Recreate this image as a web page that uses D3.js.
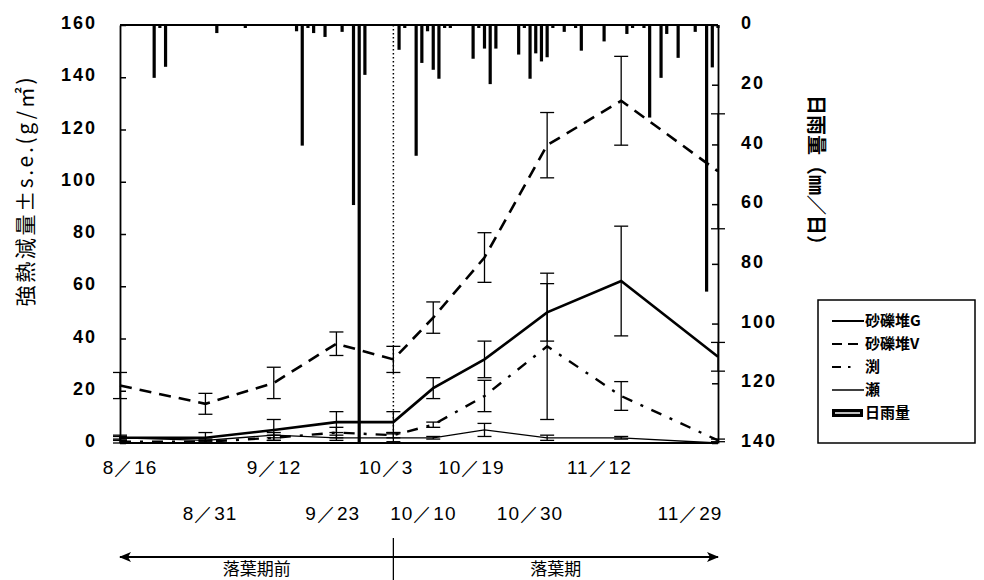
<!DOCTYPE html>
<html>
<head>
<meta charset="utf-8">
<script src="https://cdn.jsdelivr.net/npm/d3@7/dist/d3.min.js"></script>
<style>
body { margin: 0; background: #fff; }
.num { font-family: "Liberation Sans", Arial, sans-serif; font-weight: bold; font-size: 18px; letter-spacing: 2px; }
.jp { font-family: "Noto Sans CJK JP", sans-serif; }
</style>
</head>
<body>
<svg id="chart" width="984" height="580"></svg>
<script>
// sampling dates and labels
const sampleDates = ["1990-08-16", "1990-08-31", "1990-09-12", "1990-09-23", "1990-10-03",
	"1990-10-10", "1990-10-19", "1990-10-30", "1990-11-12", "1990-11-29"];
const dateLabels = ["8／16", "8／31", "9／12", "9／23", "10／3", "10／10", "10／19", "10／30", "11／12", "11／29"];

// 強熱減量 (g/m2) and s.e.
const gravelG = [2, 2, 5, 8, 8, 21, 32, 50, 62, 33];
const gravelGErr = [1, 2, 4, 4, 4, 4, 7, 11, 21, 5.5];
const gravelV = [22, 15, 23, 38, 32, 48, 71, 114, 131, 104];
const gravelVErr = [5, 4, 6, 4.5, 5, 6, 9.5, 12.5, 17, 22];
const pool = [0.5, 0.5, 2, 4, 3, 7, 18, 37, 18, 1];
const poolErr = [0.5, 0.5, 1, 2, 1, 1, 6, 28, 5.5, 0.5];
const riffle = [2, 1, 3, 2, 2, 2, 5, 2, 2, 0];
const riffleErr = [0.5, 0.5, 1, 1, 1.5, 0.5, 2.5, 1, 0.5, 0];

// daily rainfall (mm/day)
const rainDates = ["1990-08-22", "1990-08-23", "1990-08-24", "1990-09-02", "1990-09-07", "1990-09-16", "1990-09-17",
	"1990-09-18", "1990-09-19", "1990-09-21", "1990-09-24", "1990-09-26", "1990-09-27", "1990-09-28",
	"1990-10-04", "1990-10-05", "1990-10-07", "1990-10-08", "1990-10-09", "1990-10-10", "1990-10-11",
	"1990-10-12", "1990-10-13", "1990-10-17", "1990-10-18", "1990-10-19", "1990-10-20", "1990-10-21",
	"1990-10-25", "1990-10-26", "1990-10-27", "1990-10-28", "1990-10-29", "1990-10-30", "1990-10-31",
	"1990-11-02", "1990-11-04", "1990-11-05", "1990-11-09", "1990-11-13", "1990-11-14", "1990-11-16",
	"1990-11-17", "1990-11-19", "1990-11-20", "1990-11-22", "1990-11-25", "1990-11-27", "1990-11-28", "1990-11-29"];
const rainMm = [17.7, 1, 14, 2.7, 1, 2.1, 40.4,
	1, 2.7, 4, 2.3, 60.3, 140, 16.7,
	8.3, 1, 43.8, 12.7, 2.1, 15, 18,
	1, 1, 11.3, 1, 7.9, 19.8, 7.9,
	9.9, 1, 18, 9.5, 12.2, 10.8, 1,
	2.3, 1, 8.6, 5.5, 3, 1, 1,
	31, 17.7, 3, 11, 2.3, 89.3, 14.2, 1];

const leftTicks = [0, 20, 40, 60, 80, 100, 120, 140, 160];
const rightTicks = [0, 20, 40, 60, 80, 100, 120, 140];

const parse = d3.timeParse("%Y-%m-%d");
const svg = d3.select("#chart");

const x = d3.scaleTime()
	.domain([parse(sampleDates[0]), parse(sampleDates[sampleDates.length - 1])])
	.range([120, 718]);
const y = d3.scaleLinear().domain([0, 160]).range([443, 25]);
const yRain = d3.scaleLinear().domain([0, 140]).range([25, 443]);

/* rainfall bars hanging from the top */
svg.append("g").attr("class", "rain")
	.selectAll("rect")
	.data(rainDates.map((d, i) => ({ date: parse(d), mm: rainMm[i] })))
	.enter().append("rect")
	.attr("x", d => x(d.date) - 1.6)
	.attr("y", yRain(0))
	.attr("width", 3.2)
	.attr("height", d => yRain(d.mm) - yRain(0))
	.attr("fill", "#000");

// dotted line at 10/3
svg.append("line")
	.attr("x1", x(parse(sampleDates[4]))).attr("x2", x(parse(sampleDates[4])))
	.attr("y1", y(160)).attr("y2", y(0))
	.attr("stroke", "#000").attr("stroke-width", 1.5)
	.attr("stroke-dasharray", "1.5,2.5");

/* axes */
let leftAxis = svg.append("g")
	.attr("transform", "translate(120,0)")
	.call(d3.axisLeft(y).tickValues(leftTicks).tickSizeInner(-6).tickSizeOuter(0).tickPadding(23));
let rightAxis = svg.append("g")
	.attr("transform", "translate(718,0)")
	.call(d3.axisRight(yRain).tickValues(rightTicks).tickSizeInner(-6).tickSizeOuter(0).tickPadding(23));
[leftAxis, rightAxis].forEach(a => {
	a.select(".domain").attr("stroke-width", 1.8);
	a.selectAll(".tick line").attr("stroke-width", 1.5);
	a.selectAll(".tick text").attr("class", "num").attr("fill", "#000").attr("dy", "0.2em");
});
// top and bottom frame
svg.append("line").attr("x1", 120).attr("x2", 718).attr("y1", y(160)).attr("y2", y(160))
	.attr("stroke", "#000").attr("stroke-width", 1.8);
svg.append("line").attr("x1", 120).attr("x2", 718).attr("y1", y(0)).attr("y2", y(0))
	.attr("stroke", "#000").attr("stroke-width", 1.8);

/* series */
const series = [
	{ name: "砂礫堆G", values: gravelG, err: gravelGErr, width: 2.6, dash: null },
	{ name: "砂礫堆V", values: gravelV, err: gravelVErr, width: 2.6, dash: "12,8" },
	{ name: "渕", values: pool, err: poolErr, width: 2.4, dash: "11,9,3,9" },
	{ name: "瀬", values: riffle, err: riffleErr, width: 1.3, dash: null }
];

let line = d3.line()
	.x(d => x(d.date))
	.y(d => y(d.value));

series.forEach(s => {
	let pts = sampleDates.map((d, i) => ({ date: parse(d), value: s.values[i], err: s.err[i] }));
	let g = svg.append("g").attr("class", "series");
	g.selectAll("g.err")
		.data(pts.filter(p => p.err > 0))
		.enter().append("g").attr("class", "err")
		.each(function(p) {
			let e = d3.select(this);
			let cx = x(p.date);
			e.append("line").attr("x1", cx).attr("x2", cx)
				.attr("y1", y(p.value + p.err)).attr("y2", y(Math.max(0, p.value - p.err)));
			e.append("line").attr("x1", cx - 7).attr("x2", cx + 7)
				.attr("y1", y(p.value + p.err)).attr("y2", y(p.value + p.err));
			e.append("line").attr("x1", cx - 7).attr("x2", cx + 7)
				.attr("y1", y(Math.max(0, p.value - p.err))).attr("y2", y(Math.max(0, p.value - p.err)));
		})
		.selectAll("line").attr("stroke", "#000").attr("stroke-width", 1.3);
	g.append("path")
		.attr("d", line(pts))
		.attr("fill", "none")
		.attr("stroke", "#000")
		.attr("stroke-width", s.width)
		.attr("stroke-dasharray", s.dash);
});

/* axis titles */
svg.append("text")
	.attr("class", "jp")
	.attr("transform", "translate(33,192) rotate(-90)")
	.attr("text-anchor", "middle")
	.attr("textLength", 229)
	.attr("lengthAdjust", "spacing")
	.style("font-size", "21px")
	.text("強熱減量±s.e.(g/㎡)");
svg.append("text")
	.attr("class", "jp")
	.attr("transform", "translate(809,175) rotate(90)")
	.attr("text-anchor", "middle")
	.style("font-size", "20px")
	.style("font-weight", "bold")
	.text("日雨量（㎜／日）");

/* date labels, two staggered rows */
let labelX = x.copy().range([130, 690]);
svg.append("g").attr("class", "dates")
	.selectAll("text")
	.data(sampleDates)
	.enter().append("text")
	.attr("class", "num")
	.attr("x", d => labelX(parse(d)))
	.attr("y", (d, i) => i % 2 === 0 ? 474 : 520)
	.attr("text-anchor", "middle")
	.style("font-weight", "normal")
	.style("font-size", "19px")
	.style("letter-spacing", "1px")
	.text((d, i) => dateLabels[i]);

/* period arrow */
let defs = svg.append("defs");
defs.append("marker").attr("id", "arr")
	.attr("viewBox", "0 0 12 10").attr("refX", 11).attr("refY", 5)
	.attr("markerWidth", 12).attr("markerHeight", 10)
	.attr("markerUnits", "userSpaceOnUse").attr("orient", "auto-start-reverse")
	.append("path").attr("d", "M0,0 L12,5 L0,10 L3,5 z").attr("fill", "#000");
let xStart = x(parse(sampleDates[0])), xEnd = x(parse(sampleDates[9])), xMid = x(parse(sampleDates[4]));
svg.append("line")
	.attr("x1", xStart).attr("x2", xEnd).attr("y1", 557).attr("y2", 557)
	.attr("stroke", "#000").attr("stroke-width", 2)
	.attr("marker-start", "url(#arr)").attr("marker-end", "url(#arr)");
svg.append("line")
	.attr("x1", xMid).attr("x2", xMid).attr("y1", 538).attr("y2", 580)
	.attr("stroke", "#000").attr("stroke-width", 1.3);
svg.append("text").attr("class", "jp")
	.attr("x", (xStart + xMid) / 2).attr("y", 575).attr("text-anchor", "middle")
	.style("font-size", "17px").text("落葉期前");
svg.append("text").attr("class", "jp")
	.attr("x", (xMid + xEnd) / 2).attr("y", 575).attr("text-anchor", "middle")
	.style("font-size", "17px").text("落葉期");

/* legend */
let legend = svg.append("g").attr("class", "legend").attr("transform", "translate(818,300)");
legend.append("rect").attr("width", 157).attr("height", 143)
	.attr("fill", "#fff").attr("stroke", "#000").attr("stroke-width", 1.5);
let items = legend.selectAll("g.item")
	.data(series.concat([{ name: "日雨量", rain: true }]))
	.enter().append("g").attr("class", "item")
	.attr("transform", (d, i) => "translate(0," + (21 + i * 23) + ")");
items.filter(d => !d.rain).append("line")
	.attr("x1", 14).attr("x2", 46).attr("y1", 0).attr("y2", 0)
	.attr("stroke", "#000")
	.attr("stroke-width", d => d.width === 1.3 ? 1.5 : 2)
	.attr("stroke-dasharray", d => d.name === "渕" ? "9,7,2.5,20" : (d.dash ? "10,6" : null));
items.filter(d => d.rain).append("rect")
	.attr("x", 14).attr("y", -4).attr("width", 31).attr("height", 8).attr("fill", "#000");
items.filter(d => d.rain).append("line")
	.attr("x1", 17).attr("x2", 42).attr("y1", 0).attr("y2", 0)
	.attr("stroke", "#fff").attr("stroke-width", 1.5);
items.append("text").attr("class", "jp")
	.attr("x", 47).attr("y", 0).attr("dy", "0.36em")
	.style("font-size", "15px")
	.style("font-weight", "bold")
	.text(d => d.name);
</script>
</body>
</html>
